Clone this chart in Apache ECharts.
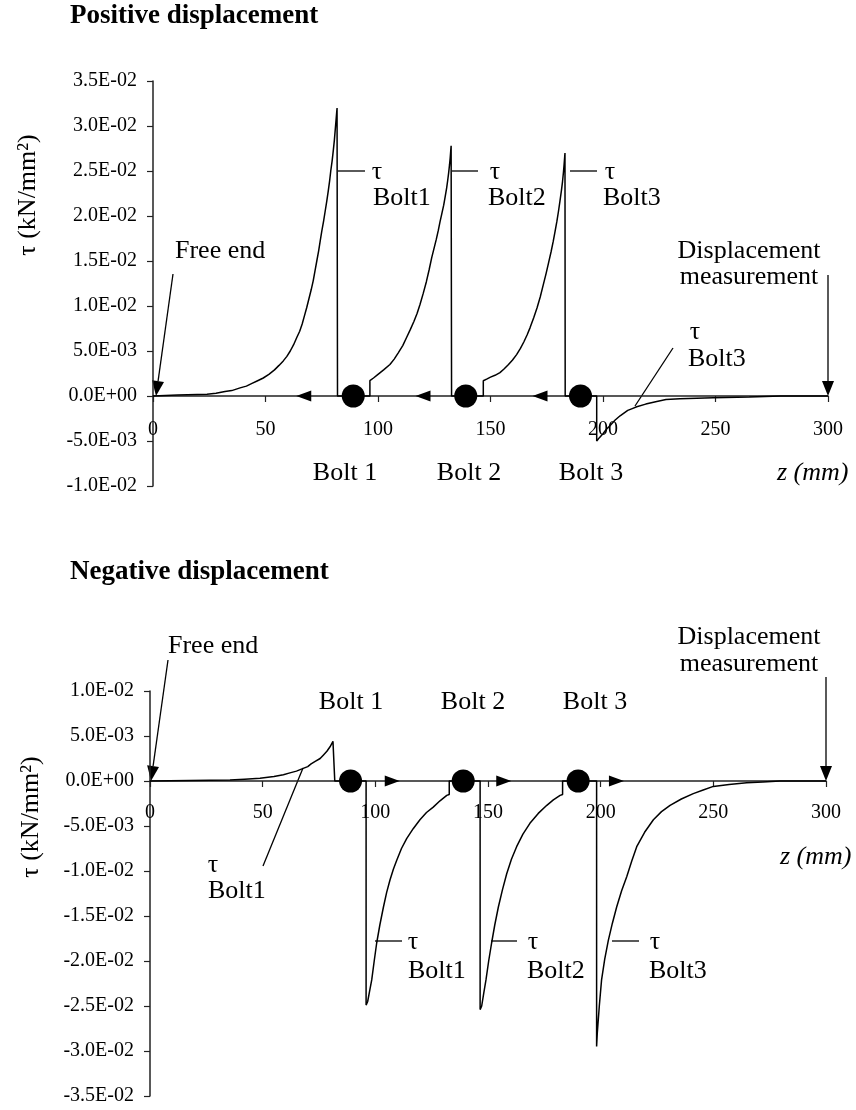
<!DOCTYPE html>
<html>
<head>
<meta charset="utf-8">
<script src="https://cdn.jsdelivr.net/npm/echarts@6/dist/echarts.min.js"></script>
<style>
  html, body { margin: 0; background: #fff; }
  #main { width: 856px; height: 1110px; }
</style>
</head>
<body>
<div id="main"></div>
<script>
const FONT = '"Liberation Serif", "Times New Roman", serif';

// bolt positions along the joint (mm)
const boltZ = [89, 139, 190];
// slip direction arrows on the axis (mm)
const posArrowZ = [67, 120, 172];
const negArrowZ = [107.5, 157, 207];

// positive displacement: [z (mm), tau (kN/mm2)]
const posSeg1 = [[0,0],[11,0.0001],[24,0.0002],[28,0.0003],[32,0.0005],[35,0.0006],[38.7,0.0009],[41.5,0.0011],[44,0.0014],[46.5,0.0017],[49,0.002],[51.5,0.0024],[54,0.0029],[56,0.0034],[57.9,0.0039],[59.5,0.0044],[61,0.005],[62.5,0.0057],[63.9,0.0065],[65.2,0.0072],[66.3,0.008],[67.3,0.0089],[68.3,0.0098],[69.3,0.0108],[70.3,0.0118],[71.2,0.0128],[72,0.0139],[72.8,0.015],[73.6,0.0161],[74.3,0.0172],[75,0.0183],[75.8,0.0194],[76.5,0.0205],[77.2,0.0216],[77.9,0.0228],[78.5,0.0239],[79,0.025],[79.6,0.0261],[80.1,0.0272],[80.6,0.0284],[81,0.0296],[81.4,0.0308],[81.8,0.032],[82,0]];
const posSeg2 = [[96.4,0],[96.4,0.0017],[98,0.002],[100,0.0024],[102.5,0.0029],[105.3,0.0035],[107.2,0.0041],[109,0.0048],[111,0.0056],[112.7,0.0065],[114.4,0.0074],[116,0.0083],[117.4,0.0092],[118.7,0.0102],[120.1,0.0114],[121.5,0.0127],[122.7,0.014],[123.9,0.0154],[124.9,0.0164],[125.9,0.0174],[126.8,0.0184],[127.6,0.0194],[128.4,0.0203],[129.2,0.0212],[129.9,0.0222],[130.5,0.0231],[131,0.024],[131.4,0.0248],[131.8,0.0257],[132.1,0.0265],[132.5,0.0278],[132.7,0]];
const posSeg3 = [[146.8,0],[146.8,0.0017],[148.5,0.0019],[150,0.0021],[152,0.0023],[154.2,0.0026],[156,0.003],[158,0.0035],[159.8,0.004],[161.6,0.0046],[163.3,0.0053],[164.8,0.006],[166.3,0.0068],[167.6,0.0076],[169.2,0.0087],[170.7,0.0098],[172.1,0.011],[173.5,0.0124],[174.7,0.0136],[175.8,0.0148],[176.9,0.016],[177.9,0.0172],[178.7,0.0183],[179.5,0.0194],[180.2,0.0205],[180.9,0.0217],[181.5,0.0228],[182,0.0238],[182.4,0.0248],[182.7,0.0257],[183.1,0.027],[183.2,0]];
const posSeg4 = [[197.2,0],[197.2,-0.005],[198.5,-0.0046],[200,-0.0042],[201.5,-0.0037],[203.1,-0.0033],[205.3,-0.0027],[207.6,-0.0022],[209.3,-0.0019],[211,-0.0016],[213,-0.0014],[215,-0.0012],[219,-0.0009],[223.9,-0.0006],[228,-0.0004],[234.2,-0.0003],[249,-0.0002],[265,-0.0001],[279,0],[300,0]];

// negative displacement
const negSeg1 = [[0,0],[35.5,0.0001],[42,0.0002],[48.8,0.0003],[55,0.0005],[59.2,0.0007],[62.1,0.0009],[65,0.0011],[68,0.0014],[70,0.0016],[71.5,0.0019],[73.5,0.0022],[75.5,0.0025],[77,0.0029],[78.5,0.0033],[79.9,0.0038],[81.2,0.0044],[82,0]];
const negSeg2 = [[95.9,0],[95.9,-0.0249],[96.6,-0.0245],[97.5,-0.0233],[98.4,-0.0221],[99.5,-0.02],[100.6,-0.018],[102,-0.016],[103.6,-0.014],[105,-0.0124],[106.5,-0.011],[108,-0.0098],[109.5,-0.0088],[111.6,-0.0075],[113.9,-0.0064],[116.8,-0.0053],[119.8,-0.0043],[122.7,-0.0035],[125.7,-0.0029],[128.7,-0.0022],[131.7,-0.0016],[132.8,-0.0015],[132.8,0]];
const negSeg3 = [[146.5,0],[146.5,-0.0254],[147.2,-0.025],[148.1,-0.0236],[149.1,-0.0221],[150.3,-0.02],[151.6,-0.018],[153,-0.016],[154.6,-0.014],[156.4,-0.0121],[158.3,-0.0103],[160.4,-0.0087],[162.7,-0.0073],[165.5,-0.0059],[168.6,-0.0047],[172.3,-0.0036],[176.1,-0.0027],[179,-0.0021],[182,-0.0016],[183.1,-0.0015],[183.1,0]];
const negSeg4 = [[198.2,0],[198.2,-0.0295],[198.5,-0.028],[199.4,-0.025],[200.4,-0.0221],[201.8,-0.0198],[203.4,-0.0177],[205.2,-0.0158],[207.1,-0.014],[209.3,-0.0122],[211.6,-0.0106],[213.8,-0.0089],[216,-0.0073],[219.5,-0.0057],[223.4,-0.0043],[227,-0.0034],[230.8,-0.0027],[235.8,-0.002],[241.1,-0.0014],[245.5,-0.001],[250,-0.0006],[257,-0.0004],[264.8,-0.0002],[272,-0.0001],[279.5,0],[300,0]];

// 3.5E-02 style labels
function sci(v) {
  if (Math.abs(v) < 1e-12) return '0.0E+00';
  const e = Math.floor(Math.log10(Math.abs(v)) + 1e-9);
  const m = v / Math.pow(10, e);
  const ae = Math.abs(e);
  return m.toFixed(1) + 'E' + (e < 0 ? '-' : '+') + (ae < 10 ? '0' : '') + ae;
}

// x axis drawn through tau = 0 by shifting it up from the grid bottom
function xAxisOf(grid, offset, margin) {
  return {
    gridIndex: grid, type: 'value', min: 0, max: 300, interval: 50,
    offset: offset,
    axisLine: { onZero: false, lineStyle: { color: '#222', width: 1.5 } },
    axisTick: { length: 6, lineStyle: { color: '#222', width: 1.2 } },
    axisLabel: { margin: margin, fontSize: 20, fontFamily: FONT, color: '#000' },
    splitLine: { show: false }
  };
}
function yAxisOf(grid, min, max) {
  return {
    gridIndex: grid, type: 'value', min: min, max: max, interval: 0.005,
    axisLine: { show: true, onZero: false, lineStyle: { color: '#222', width: 1.5 } },
    axisTick: { show: true, length: 6, lineStyle: { color: '#222', width: 1.2 } },
    axisLabel: { margin: 16, fontSize: 20, fontFamily: FONT, color: '#000', formatter: sci },
    splitLine: { show: false }
  };
}

function curve(grid, data) {
  return {
    type: 'line', xAxisIndex: grid, yAxisIndex: grid, data: data,
    showSymbol: false, symbol: 'none', z: 3,
    lineStyle: { color: '#000', width: 1.5 }
  };
}
function bolts(grid) {
  return {
    type: 'scatter', xAxisIndex: grid, yAxisIndex: grid, z: 5,
    data: boltZ.map(z => [z, 0]), symbol: 'circle', symbolSize: 23,
    itemStyle: { color: '#000', opacity: 1 }
  };
}
function arrows(grid, zs, rot) {
  return {
    type: 'scatter', xAxisIndex: grid, yAxisIndex: grid, z: 5,
    data: zs.map(z => [z, 0]), symbol: 'triangle', symbolSize: [11, 15], symbolRotate: rot,
    itemStyle: { color: '#000', opacity: 1 }
  };
}

// annotation helpers (pixel layout)
const LS = { stroke: '#000', lineWidth: 1.3 };
function txt(x, y, s, opt) {
  opt = opt || {};
  return {
    type: 'text', x: x, y: y, rotation: opt.rot || 0,
    style: {
      text: s, fill: '#000', align: opt.align || 'left', verticalAlign: 'middle',
      font: (opt.italic ? 'italic ' : '') + (opt.bold ? 'bold ' : '') + (opt.size || 26) + 'px ' + FONT
    }
  };
}
function seg(x1, y1, x2, y2) {
  return { type: 'line', shape: { x1: x1, y1: y1, x2: x2, y2: y2 }, style: LS };
}
function arrow(x1, y1, x2, y2) {
  const dx = x2 - x1, dy = y2 - y1, len = Math.hypot(dx, dy);
  const ux = dx / len, uy = dy / len, L = 15, W = 6;
  const bx = x2 - ux * L, by = y2 - uy * L;
  return [
    seg(x1, y1, bx, by),
    { type: 'polygon', shape: { points: [[x2, y2], [bx - uy * W, by + ux * W], [bx + uy * W, by - ux * W]] }, style: { fill: '#000' } }
  ];
}

const graphics = [].concat(
  // positive displacement
  txt(70, 16, 'Positive displacement', { bold: true, size: 27 }),
  txt(28, 195, 'τ (kN/mm²)', { rot: Math.PI / 2, align: 'center' }),
  txt(175, 251, 'Free end'),
  arrow(173, 274, 156, 396),
  txt(749, 251, 'Displacement', { align: 'center' }),
  txt(749, 277, 'measurement', { align: 'center' }),
  arrow(828, 275, 828, 396),
  seg(338, 171, 365, 171), txt(377, 172, 'τ', { align: 'center' }), txt(373, 198, 'Bolt1'),
  seg(452, 171, 478, 171), txt(495, 172, 'τ', { align: 'center' }), txt(488, 198, 'Bolt2'),
  seg(570, 171, 597, 171), txt(610, 172, 'τ', { align: 'center' }), txt(603, 198, 'Bolt3'),
  txt(695, 332, 'τ', { align: 'center' }), txt(688, 359, 'Bolt3'),
  seg(673, 348, 635, 406),
  txt(345, 473, 'Bolt 1', { align: 'center' }),
  txt(469, 473, 'Bolt 2', { align: 'center' }),
  txt(591, 473, 'Bolt 3', { align: 'center' }),
  txt(777, 473, 'z (mm)', { italic: true }),
  // negative displacement
  txt(70, 572, 'Negative displacement', { bold: true, size: 27 }),
  txt(31, 817, 'τ (kN/mm²)', { rot: Math.PI / 2, align: 'center' }),
  txt(168, 646, 'Free end'),
  arrow(168, 660, 151, 781),
  txt(749, 637, 'Displacement', { align: 'center' }),
  txt(749, 664, 'measurement', { align: 'center' }),
  arrow(826, 677, 826, 781),
  txt(351, 702, 'Bolt 1', { align: 'center' }),
  txt(473, 702, 'Bolt 2', { align: 'center' }),
  txt(595, 702, 'Bolt 3', { align: 'center' }),
  txt(780, 857, 'z (mm)', { italic: true }),
  txt(213, 865, 'τ', { align: 'center' }), txt(208, 891, 'Bolt1'),
  seg(303, 768, 263, 866),
  seg(375, 941, 402, 941), txt(413, 942, 'τ', { align: 'center' }), txt(408, 971, 'Bolt1'),
  seg(491, 941, 517, 941), txt(533, 942, 'τ', { align: 'center' }), txt(527, 971, 'Bolt2'),
  seg(612, 941, 639, 941), txt(655, 942, 'τ', { align: 'center' }), txt(649, 971, 'Bolt3')
);

const chart = echarts.init(document.getElementById('main'), null, { renderer: 'canvas' });
chart.setOption({
  animation: false,
  backgroundColor: '#fff',
  grid: [
    { left: 153, top: 81, width: 675, height: 405 },
    { left: 150, top: 691, width: 676, height: 405 }
  ],
  xAxis: [xAxisOf(0, -90, 24), xAxisOf(1, -315, 22)],
  yAxis: [yAxisOf(0, -0.01, 0.035), yAxisOf(1, -0.035, 0.01)],
  series: [
    curve(0, posSeg1.concat(posSeg2, posSeg3, posSeg4)),
    bolts(0),
    arrows(0, posArrowZ, 90),
    curve(1, negSeg1.concat(negSeg2, negSeg3, negSeg4)),
    bolts(1),
    arrows(1, negArrowZ, -90)
  ],
  graphic: graphics
});
</script>
</body>
</html>
